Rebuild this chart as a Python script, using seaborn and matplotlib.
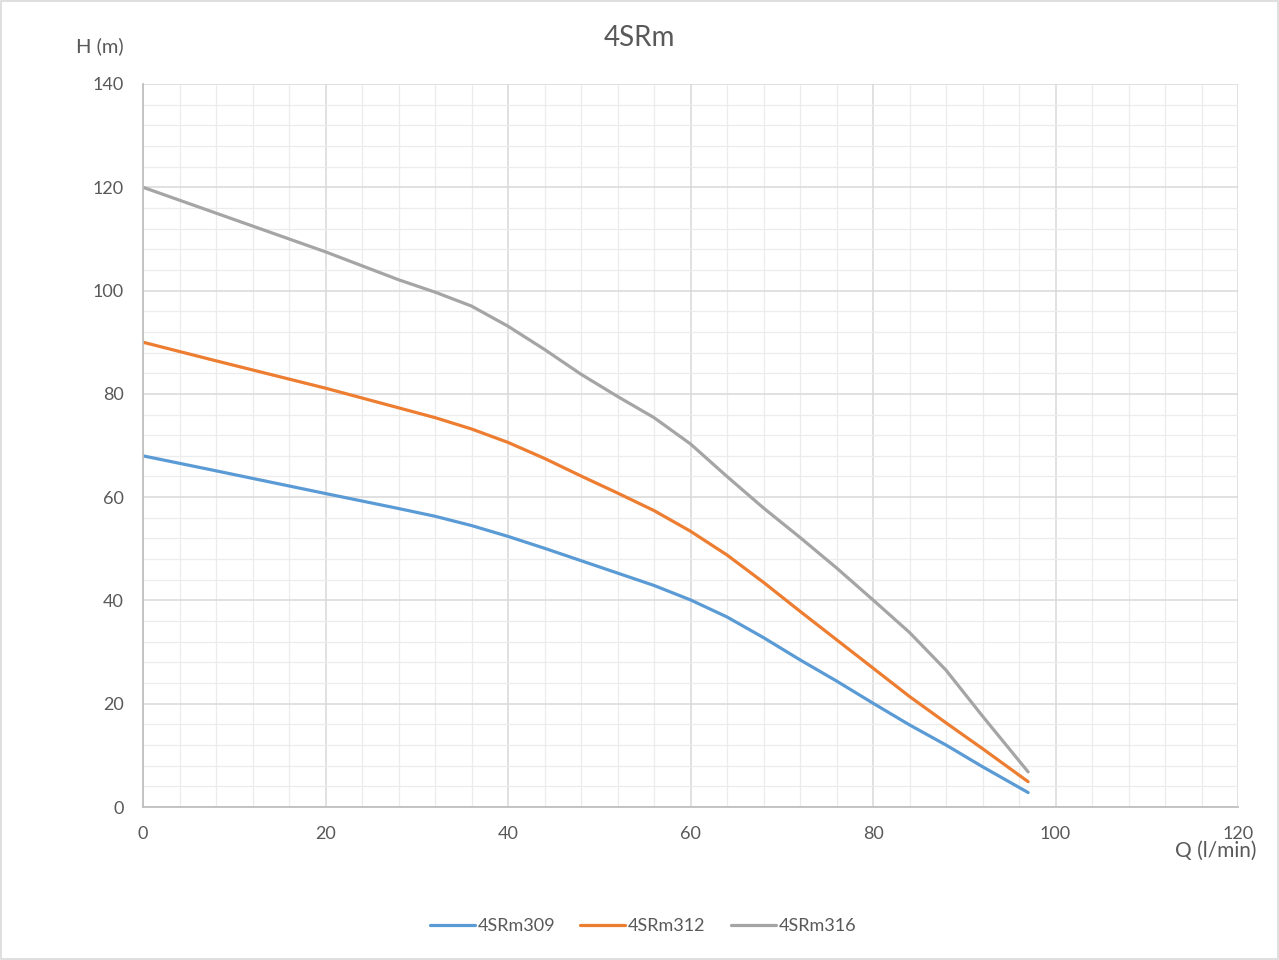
import pandas as pd
import matplotlib.pyplot as plt
import seaborn as sns
import numpy as np
from matplotlib.patches import Rectangle
from matplotlib.ticker import MultipleLocator

# Data
q = [0, 8, 20, 28, 32, 36, 40, 44, 48, 52, 56, 60, 64, 68, 72, 76, 80, 84, 88, 92, 97]
h_309 = [68.0, 65.1, 60.7, 57.8, 56.3, 54.5, 52.4, 50.1, 47.7, 45.3, 42.9, 40.1,
         36.8, 32.8, 28.5, 24.4, 20.1, 15.9, 12.0, 7.8, 2.8]
h_312 = [90.0, 86.4, 81.1, 77.3, 75.4, 73.2, 70.6, 67.5, 64.1, 60.8, 57.4, 53.4,
         48.8, 43.5, 37.9, 32.4, 26.9, 21.4, 16.3, 11.3, 4.9]
h_316 = [120.0, 115.0, 107.5, 102.1, 99.7, 97.0, 93.1, 88.6, 83.8, 79.5, 75.4, 70.3,
         64.0, 57.9, 52.2, 46.3, 40.1, 33.8, 26.5, 17.6, 6.8]
models = ['4SRm309', '4SRm312', '4SRm316']
colors = ['#5B9BD5', '#ED7D31', '#A5A5A5']

df = pd.concat([
    pd.DataFrame({'Q': q, 'H': h, 'model': m})
    for m, h in zip(models, [h_309, h_312, h_316])
])

sns.set_theme(style="white")
plt.rcParams['font.family'] = ['Lato', 'DejaVu Sans']
text_color = '#595959'

fig = plt.figure(figsize=(12.79, 9.6), dpi=100)
ax = fig.add_axes([143 / 1279, 1 - 807 / 960, (1238 - 143) / 1279, (807 - 84) / 960])

sns.lineplot(data=df, x='Q', y='H', hue='model', palette=colors, linewidth=2.3,
             sort=False, ax=ax, legend=False)
for line in ax.get_lines():
    line.set_solid_joinstyle('round')
    line.set_solid_capstyle('round')

ax.set_xlim(0, 120)
ax.set_ylim(0, 140)
ax.xaxis.set_major_locator(MultipleLocator(20))
ax.yaxis.set_major_locator(MultipleLocator(20))
ax.xaxis.set_minor_locator(MultipleLocator(4))
ax.yaxis.set_minor_locator(MultipleLocator(4))
ax.grid(which='major', color='#d9d9d9', linewidth=1.1)
ax.grid(which='minor', color='#ececec', linewidth=0.9)
ax.set_axisbelow(True)
for side in ['top', 'right']:
    ax.spines[side].set_visible(False)
for side in ['left', 'bottom']:
    ax.spines[side].set_color('#bfbfbf')
    ax.spines[side].set_linewidth(1.3)
ax.tick_params(axis='both', which='both', length=0, labelsize=13, colors=text_color)
ax.tick_params(axis='x', pad=14)
ax.tick_params(axis='y', pad=14)
ax.set_xlabel('')
ax.set_ylabel('')

fig.text(100 / 1279, 1 - 46 / 960, 'H (m)', ha='center', va='center', fontsize=14.5, color=text_color)
fig.text(1216 / 1279, 1 - 851 / 960, 'Q (l/min)', ha='center', va='center', fontsize=15, color=text_color)
fig.text(639 / 1279, 1 - 38 / 960, '4SRm', ha='center', va='center', fontsize=20, color=text_color)

handles = [plt.Line2D([], [], color=c, linewidth=2.3) for c in colors]
fig.legend(handles, models, loc='center', bbox_to_anchor=(643 / 1279, 1 - 926 / 960),
           ncol=3, frameon=False, fontsize=13, handlelength=2.5, handletextpad=0.15,
           columnspacing=1.4, labelcolor=text_color)

fig.patches.append(Rectangle((0.001, 0.001), 0.998, 0.998, transform=fig.transFigure,
                             fill=False, edgecolor='#d9d9d9', linewidth=1.2))

plt.savefig('out.png', dpi=100)
